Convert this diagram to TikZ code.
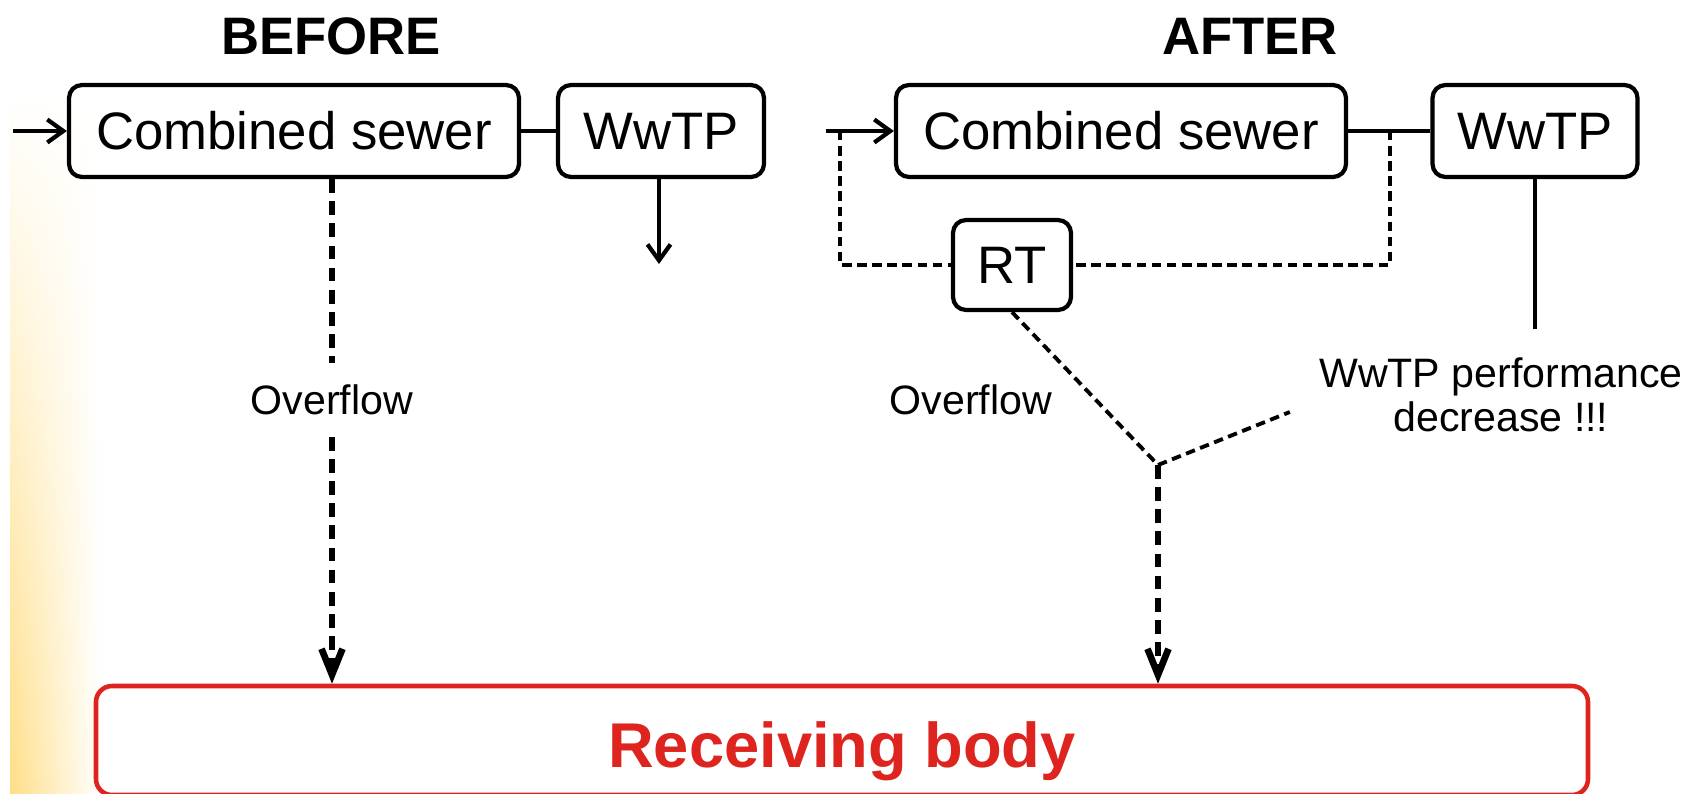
\documentclass[tikz,border=0pt]{standalone}
\usepackage{fontspec}
\setmainfont{Liberation Sans}
\usetikzlibrary{calc,arrows.meta,fadings}
\definecolor{bodyred}{RGB}{222,36,31}
\definecolor{glow}{RGB}{255,222,135}

\begin{document}
\begin{tikzpicture}[
        box/.style={draw,line width=1.2pt,rounded corners=0.13cm,inner sep=0pt,minimum height=0.92cm,
            font=\fontsize{15}{18}\selectfont},
        title/.style={font=\bfseries\fontsize{15}{18}\selectfont},
        pipe/.style={line width=1.2pt},
        spill/.style={line width=1.9pt,dash pattern=on 3.9pt off 2.4pt,
            >={Straight Barb[length=0.26cm,width=0.21cm]}},
        bypass/.style={line width=1.1pt,dash pattern=on 2.7pt off 1.6pt},
        note/.style={font=\fontsize{11.7}{12.4}\selectfont,inner sep=6pt},
        >={Straight Barb[length=0.16cm,width=0.23cm]}
    ]
        \useasboundingbox (0,0) rectangle (17.05,7.93);
        \shade[left color=glow,right color=white,path fading=north] (0.1,0) rectangle (1.0,7.0);

        \node[title] (before) at (3.31,7.57) {BEFORE};
        \node[title] (after) at (12.50,7.57) {AFTER};

        \node[box,minimum width=4.50cm] (cs1) at (2.94,6.62) {Combined sewer};
        \node[box,minimum width=2.06cm] (wwtp1) at (6.61,6.62) {WwTP};
        \node[box,minimum width=4.50cm] (cs2) at (11.21,6.62) {Combined sewer};
        \node[box,minimum width=2.05cm] (wwtp2) at (15.35,6.62) {WwTP};
        \node[box,minimum width=1.18cm,minimum height=0.90cm] (rt) at (10.12,5.28) {RT};

        \node[note] (of1) at (3.32,3.93) {Overflow};
        \node[note] (of2) at (9.71,3.93) {Overflow};
        \node[note,align=center,inner sep=8.2pt] (perf) at (15.01,3.98) {WwTP performance\\decrease !!!};

        \node[draw=bodyred,line width=1.3pt,rounded corners=0.16cm,minimum width=14.92cm,minimum height=1.09cm,
            text=bodyred,font=\bfseries\fontsize{18}{21}\selectfont,text height=0.6cm,text depth=0.07cm]
            (rb) at (8.42,0.525) {Receiving body};

        \coordinate (in1) at (0.13,6.62);
        \coordinate (in2) at (8.26,6.62);
        \coordinate (split) at (8.40,6.62);
        \coordinate (merge) at (13.90,6.62);
        \coordinate (out1) at (6.59,5.29);
        \coordinate (junc) at (11.58,3.28);

        % before
        \draw[pipe,->] (in1) -- (cs1);
        \draw[pipe] (cs1) -- (wwtp1);
        \draw[pipe,->] (wwtp1.south -| out1) -- (out1);
        \draw[spill] (cs1.south -| of1) -- (of1);
        \draw[spill,->] (of1) -- (rb.north -| of1);

        % after
        \draw[pipe,->] (in2) -- (cs2);
        \draw[pipe] (cs2) -- (wwtp2);
        \draw[bypass] (split) |- (rt);
        \draw[bypass] (merge) |- (rt);
        \draw[bypass] (rt.south) -- (junc);
        \draw[bypass] (junc) -- ($(perf.west)+(0,-0.17)$);
        \draw[spill,->] (junc) -- (rb.north -| junc);
        \draw[pipe] (wwtp2) -- (wwtp2 |- perf.north);
    \end{tikzpicture}
\end{document}
